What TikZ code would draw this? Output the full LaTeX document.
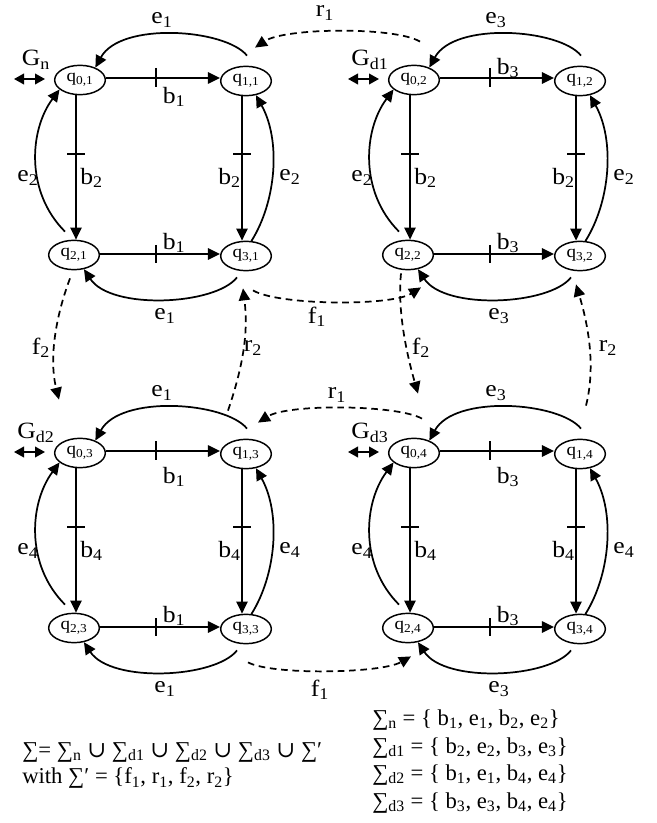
\documentclass[tikz,border=0pt]{standalone}
\usepackage{fontspec}
\setmainfont{Liberation Serif}
\newfontfamily\lblfam{Liberation Serif}[FakeStretch=1.1]
\newfontfamily\dvs{DejaVu Serif}
\usetikzlibrary{shapes.geometric,arrows.meta,calc}
\newcommand\mylfont{\lblfam\fontsize{17.5}{19}\selectfont}
\newcommand\myqfont{\lblfam\fontsize{13}{15}\selectfont}
\newcommand\mytfont{\fontsize{17}{19}\selectfont}
\newcommand\cupsym{{\dvs ∪}}
\tikzset{
  st/.style={ellipse,draw,line width=1.1pt,minimum width=38pt,minimum height=22pt,inner sep=0pt,font=\myqfont},
  arr/.style={line width=1.3pt,-{Triangle[length=9pt,width=8.5pt]}},
  darr/.style={arr,dash pattern=on 5pt off 3.5pt},
  tk/.style={line width=1.3pt},
  lbl/.style={font=\mylfont,inner sep=0pt},
  txt/.style={font=\mytfont,inner sep=0pt,anchor=west},
  dbl/.style={line width=1.3pt,{Triangle[length=7.5pt,width=8pt]}-{Triangle[length=7.5pt,width=8pt]}},
}
\newcommand\qgroup[9]{%
\begin{scope}[shift={(#2,#3)}]
 \node[st] (q0#1) at (80,80) {q\textsubscript{0,#1}};
 \node[st] (q1#1) at (246,81) {q\textsubscript{1,#1}};
 \node[st] (q2#1) at (74,255) {q\textsubscript{2,#1}};
 \node[st] (q3#1) at (246,256) {q\textsubscript{3,#1}};
 \coordinate (vl#1) at (76,0);
 \coordinate (vr#1) at (242,0);
 \coordinate (ht#1) at (0,78);
 \coordinate (hb#1) at (0,254);
 \draw[arr] (q0#1.east |- ht#1) -- (q1#1.west |- ht#1);
 \draw[arr] (q2#1.east |- hb#1) -- (q3#1.west |- hb#1);
 \draw[arr] (q0#1.south -| vl#1) -- (q2#1.north -| vl#1);
 \draw[arr] (q1#1.south -| vr#1) -- (q3#1.north -| vr#1);
 \draw[tk] (156,68) -- (156,87);
 \draw[tk] (156,245) -- (156,263);
 \draw[tk] (67,154) -- (85,154);
 \draw[tk] (233,154) -- (251,154);
 \coordinate (s1#1) at ($(q1#1.north)+(1,-10)$);
 \draw[arr] (s1#1) .. controls +(-22,-27) and +(25,-46) .. (q0#1.39);
 \coordinate (s2#1) at ($(q3#1.south)+(-9,6)$);
 \draw[arr] (s2#1) .. controls +(-22,28) and +(27,41) .. (q2#1.-55);
 \coordinate (s3#1) at ($(q2#1.north)+(-9,-8)$);
 \draw[arr] (s3#1) .. controls +(-40,-40) and +(-30,40) .. (q0#1.205);
 \draw[arr] (q3#1.70) .. controls +(25,-40) and +(25,45) .. (q1#1.-55);
 \node[lbl] (bt#1) at (174,#9) {b\textsubscript{#4}};
 \node[lbl] (bb#1) at (174,243) {b\textsubscript{#4}};
 \node[lbl,anchor=west] (bvl#1) at (80,178) {b\textsubscript{#5}};
 \node[lbl,anchor=east] (bvr#1) at (241,178) {b\textsubscript{#5}};
 \node[lbl] (et#1) at (162,20) {e\textsubscript{#6}};
 \node[lbl] (eb#1) at (165,316) {e\textsubscript{#6}};
 \node[lbl] (evl#1) at (28,178) {e\textsubscript{#7}};
 \node[lbl] (evr#1) at (290,177) {e\textsubscript{#7}};
 \node[lbl] (g#1) at (36,60) {G\textsubscript{#8}};
 \coordinate (da#1) at (14,79);
 \coordinate (db#1) at (45,79);
 \draw[dbl] (da#1) -- (db#1);
\end{scope}}
\begin{document}
\begin{tikzpicture}[x=0.75pt,y=-0.75pt]
\useasboundingbox (0,0) rectangle (656,823);
\qgroup{1}{0}{0}{1}{2}{1}{2}{n}{97}
\qgroup{2}{334}{0}{3}{2}{3}{2}{d1}{68}
\qgroup{3}{0}{373}{1}{4}{1}{4}{d2}{104}
\qgroup{4}{334}{373}{3}{4}{3}{4}{d3}{104}
% dashed connectors
\coordinate (r1a) at ($(q02.north)+(6,-23)$);
\coordinate (r1b) at ($(q11.north)+(9,-18)$);
\draw[darr] (r1a) .. controls +(-25,-15) and +(30,-20) .. (r1b);
\node[lbl] (r1l) at (325,13) {r\textsubscript{1}};
\coordinate (f1a) at ($(q31.south)+(7,19)$);
\coordinate (f1b) at ($(q22.south)+(13,17)$);
\draw[darr] (f1a) .. controls +(25,15) and +(-30,19) .. (f1b);
\node[lbl] (f1l) at (317,317) {f\textsubscript{1}};
\coordinate (r2a) at ($(q13.north)+(-18,-28)$);
\coordinate (r2b) at ($(q31.south)+(-3,17)$);
\draw[darr] (r2a) .. controls +(17,-50) and +(5,40) .. (r2b);
\node[lbl] (r2l) at (253,348) {r\textsubscript{2}};
\coordinate (f2a) at ($(q21.south)+(-4,8)$);
\coordinate (f2b) at ($(q03.north)+(-21,-38)$);
\draw[darr] (f2a) .. controls +(-15,40) and +(-10,-40) .. (f2b);
\node[lbl] (f2l) at (41,348) {f\textsubscript{2}};
\coordinate (f2c) at ($(q22.south)+(-7,3)$);
\coordinate (f2d) at ($(q04.north)+(4,-44)$);
\draw[darr] (f2c) .. controls +(-4,40) and +(-10,-35) .. (f2d);
\node[lbl] (f2m) at (421,348) {f\textsubscript{2}};
\coordinate (r2c) at ($(q14.north)+(6,-33)$);
\coordinate (r2d) at ($(q32.south)+(-4,13)$);
\draw[darr] (r2c) .. controls +(10,-40) and +(12,40) .. (r2d);
\node[lbl] (r2m) at (608,348) {r\textsubscript{2}};
\coordinate (r1c) at ($(q04.north)+(8,-19)$);
\coordinate (r1d) at ($(q13.north)+(12,-16)$);
\draw[darr] (r1c) .. controls +(-25,-14) and +(30,-19) .. (r1d);
\node[lbl] (r1m) at (337,395) {r\textsubscript{1}};
\coordinate (f1c) at ($(q33.south)+(2,18)$);
\coordinate (f1d) at ($(q24.south)+(3,13)$);
\draw[darr] (f1c) .. controls +(25,13) and +(-30,17) .. (f1d);
\node[lbl] (f1m) at (320,690) {f\textsubscript{1}};
% text
\node[txt] (sig) at (22,752) {∑= ∑\textsubscript{n} \cupsym{} ∑\textsubscript{d1} \cupsym{} ∑\textsubscript{d2} \cupsym{} ∑\textsubscript{d3} \cupsym{} ∑′};
\node[txt] (with) at (22,778) {with ∑′ = \{f\textsubscript{1}, r\textsubscript{1}, f\textsubscript{2}, r\textsubscript{2}\}};
\node[txt] (sn) at (372,720) {∑\textsubscript{n} = \{ b\textsubscript{1}, e\textsubscript{1}, b\textsubscript{2}, e\textsubscript{2}\}};
\node[txt] (sd1) at (372,748) {∑\textsubscript{d1} = \{ b\textsubscript{2}, e\textsubscript{2}, b\textsubscript{3}, e\textsubscript{3}\}};
\node[txt] (sd2) at (372,775) {∑\textsubscript{d2} = \{ b\textsubscript{1}, e\textsubscript{1}, b\textsubscript{4}, e\textsubscript{4}\}};
\node[txt] (sd3) at (372,803) {∑\textsubscript{d3} = \{ b\textsubscript{3}, e\textsubscript{3}, b\textsubscript{4}, e\textsubscript{4}\}};
\end{tikzpicture}
\end{document}
